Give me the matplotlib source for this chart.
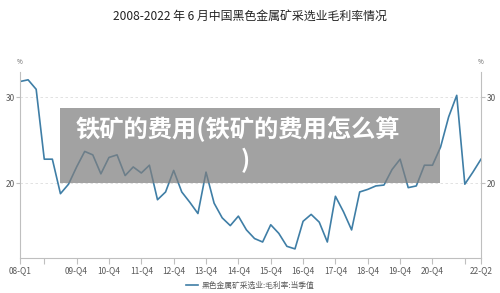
import numpy as np
import matplotlib
matplotlib.use("Agg")
import matplotlib.pyplot as plt
from matplotlib.patches import Rectangle

plt.rcParams['font.family'] = ['Noto Sans CJK SC', 'DejaVu Sans']

# quarterly gross margin (%), 08-Q1 .. 22-Q2
margin = [31.8, 32.0, 30.9, 22.8, 22.8, 18.8, 19.9, 21.9, 23.7, 23.3,
          21.1, 23.0, 23.3, 20.9, 21.9, 21.2, 22.1, 18.1, 19.0, 21.5,
          19.0, 17.8, 16.5, 21.3, 17.7, 16.0, 15.1, 16.2, 14.6, 13.6,
          13.2, 15.2, 14.2, 12.7, 12.4, 15.6, 16.4, 15.5, 13.2, 18.5,
          16.7, 14.6, 19.0, 19.3, 19.7, 19.8, 21.6, 22.8, 19.5, 19.7,
          22.1, 22.1, 24.2, 27.7, 30.2, 19.9, 21.3, 22.8]
tick_pos = [0, 3, 7, 11, 15, 19, 23, 27, 31, 35, 39, 43, 47, 51, 55, 57]
tick_labels = ["08-Q1", "", "09-Q4", "10-Q4", "11-Q4", "12-Q4", "13-Q4",
               "14-Q4", "15-Q4", "16-Q4", "17-Q4", "18-Q4", "19-Q4",
               "20-Q4", "", "22-Q2"]
y_ticks = [20, 30]

title = "2008-2022 年 6 月中国黑色金属矿采选业毛利率情况"
series_name = "黑色金属矿采选业:毛利率:当季值"
overlay = "铁矿的费用(铁矿的费用怎么算"

line_color = "#3f7ea6"
grey = "#595959"
spine = "#bfbfbf"

fig = plt.figure(figsize=(5, 2.93), dpi=100)
ax = fig.add_axes([0.04, 0.1184, 0.922, 0.6366])

x = np.arange(len(margin))
ln, = ax.plot(x, margin, color=line_color, lw=1.2, label=series_name)

ax.set_xlim(0, len(margin) - 1)
ax.set_ylim(11.31, 32.93)
ax.set_xticks(tick_pos)
ax.set_xticklabels(tick_labels)
ax.set_yticks(y_ticks)
ax.tick_params(axis='x', colors=spine, labelcolor=grey, labelsize=6, length=4, pad=2)
ax.tick_params(axis='y', colors=spine, labelcolor=grey, labelsize=6, length=3, pad=1,
               left=True, right=True, labelleft=True, labelright=True)
for y in y_ticks:
    ax.axhline(y, color="#dddddd", lw=0.6, ls=(0, (3, 3)), zorder=0)
for s in ["left", "right", "bottom"]:
    ax.spines[s].set_color(spine)
    ax.spines[s].set_linewidth(0.8)
ax.spines["top"].set_visible(False)

fig.text(0.04, 0.79, "%", fontsize=4.5, color=grey, ha="center", va="center")
fig.text(0.962, 0.79, "%", fontsize=4.5, color=grey, ha="center", va="center")

fig.text(0.5, 0.945, title, fontsize=8.6, color="#222222", ha="center", va="center")

fig.legend(handles=[ln], loc="center", bbox_to_anchor=(0.5, 0.025), frameon=False,
           fontsize=5.6, handlelength=1.6, handletextpad=0.4, labelcolor=grey)

# grey caption overlay
fig.patches.append(Rectangle((0.12, 0.3754), 0.76, 0.256, transform=fig.transFigure,
                             facecolor="#7f7f7f", alpha=0.72, edgecolor="none", zorder=5))
fig.text(0.476, 0.558, overlay, fontsize=17.5, color="white", weight="bold",
         ha="center", va="center", zorder=6)
fig.text(0.49, 0.452, ")", fontsize=17.5, color="white", weight="bold",
         ha="center", va="center", zorder=6)

fig.savefig("out.png", dpi=100)
